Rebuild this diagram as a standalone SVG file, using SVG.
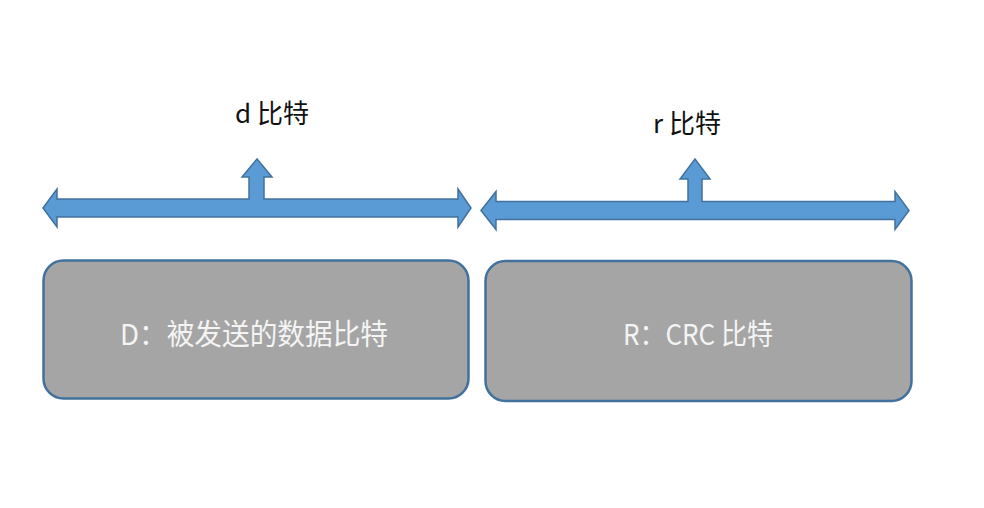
<svg xmlns="http://www.w3.org/2000/svg" width="984" height="508" viewBox="0 0 984 508">
<style>
.box{fill:#a5a5a5;stroke:#41719c;stroke-width:2.5}
.arrow{fill:#5b9bd5;stroke:#41719c;stroke-width:1.5;stroke-linejoin:miter}
.in{fill:#f4f4f4;font-family:"Noto Sans CJK SC","Noto Sans",sans-serif;font-size:29px;text-anchor:middle}
.lbl{fill:#111;font-family:"Noto Sans CJK SC","Noto Sans",sans-serif;font-size:26px;text-anchor:middle}
</style>
<rect width="984" height="508" fill="#ffffff"/>
<g id="connectors">
<path class="arrow" d="M43,208 L57,189 L57,199 L249,199 L249,177 L242,177 L257,159 L272,177 L264,177 L264,199 L458,199 L458,189 L471,208 L458,227 L458,217 L57,217 L57,227 Z"/>
<path class="arrow" d="M481,210.5 L496,191.5 L496,201.5 L688,201.5 L688,179 L680,179 L695,159 L710,179 L702,179 L702,201.5 L895,201.5 L895,191.5 L909,210.5 L895,229.5 L895,219.5 L496,219.5 L496,229.5 Z"/>
</g>
<g id="label-d">
<text class="lbl" x="272" y="123">d 比特</text>
</g>
<g id="label-r">
<text class="lbl" x="687" y="133">r 比特</text>
</g>
<g id="node-D">
<rect class="box" x="43.5" y="260.5" width="425" height="138" rx="20" ry="20"/>
<text class="in" x="254" y="345" textLength="268" lengthAdjust="spacingAndGlyphs">D：被发送的数据比特</text>
</g>
<g id="node-R">
<rect class="box" x="485.5" y="261" width="426" height="140" rx="20" ry="20"/>
<text class="in" x="698" y="345" textLength="150" lengthAdjust="spacingAndGlyphs">R：CRC 比特</text>
</g>
</svg>
